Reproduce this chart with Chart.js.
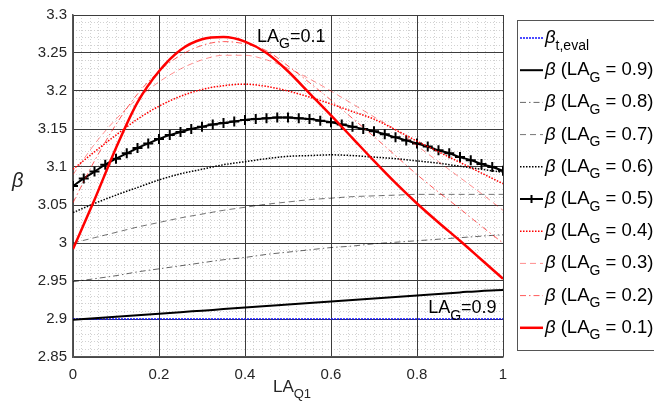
<!DOCTYPE html>
<html>
<head>
  <meta charset="UTF-8" />
  <title>beta vs LA_Q1</title>
  <script src="https://cdn.jsdelivr.net/npm/chart.js"></script>
  <style>
    body { margin: 0; background: #fff; }
  </style>
</head>
<body>

<canvas id="betaChart" width="654" height="414"></canvas>

<script>
  // 1) Values
  const laQ1 = [0, 0.05, 0.1, 0.15, 0.2, 0.25, 0.3, 0.35, 0.4, 0.45, 0.5,
                0.55, 0.6, 0.65, 0.7, 0.75, 0.8, 0.85, 0.9, 0.95, 1];
  // the marked curve (LA_G = 0.5) was read at a finer step
  const laQ1Fine = [0, 0.025, 0.05, 0.075, 0.1, 0.125, 0.15, 0.175, 0.2, 0.225,
                    0.25, 0.275, 0.3, 0.325, 0.35, 0.375, 0.4, 0.425, 0.45, 0.475,
                    0.5, 0.525, 0.55, 0.575, 0.6, 0.625, 0.65, 0.675, 0.7, 0.725,
                    0.75, 0.775, 0.8, 0.825, 0.85, 0.875, 0.9, 0.925, 0.95, 0.975, 1];

  const tEvalX = [0, 1];
  const betaTEval = [2.9, 2.9];

  const beta09 = [2.899, 2.901, 2.903, 2.905, 2.907, 2.909, 2.911, 2.913, 2.915, 2.917, 2.919,
                  2.921, 2.923, 2.925, 2.927, 2.929, 2.931, 2.933, 2.935, 2.937, 2.938];
  const beta08 = [2.949, 2.953, 2.957, 2.962, 2.966, 2.970, 2.974, 2.978, 2.981, 2.985, 2.988,
                  2.991, 2.994, 2.996, 2.999, 3.001, 3.003, 3.005, 3.007, 3.009, 3.011];
  const beta07 = [3.000, 3.007, 3.014, 3.021, 3.027, 3.033, 3.038, 3.043, 3.047, 3.051, 3.054,
                  3.057, 3.059, 3.061, 3.062, 3.063, 3.064, 3.064, 3.064, 3.064, 3.064];
  const beta06 = [3.040, 3.052, 3.063, 3.073, 3.083, 3.091, 3.097, 3.103, 3.107, 3.111, 3.114,
                  3.115, 3.116, 3.115, 3.113, 3.111, 3.108, 3.105, 3.101, 3.097, 3.093];
  const beta05 = [3.075, 3.085, 3.094, 3.103, 3.111, 3.118, 3.125, 3.131, 3.137, 3.142,
                  3.146, 3.150, 3.153, 3.156, 3.158, 3.160, 3.162, 3.163, 3.164, 3.165,
                  3.165, 3.164, 3.163, 3.161, 3.159, 3.156, 3.153, 3.150, 3.147, 3.143,
                  3.139, 3.135, 3.131, 3.127, 3.122, 3.118, 3.113, 3.109, 3.104, 3.100, 3.095];
  const beta04 = [3.097, 3.120, 3.142, 3.163, 3.180, 3.193, 3.202, 3.207, 3.209, 3.206, 3.200,
                  3.192, 3.183, 3.173, 3.163, 3.149, 3.134, 3.120, 3.106, 3.092, 3.078];
  const beta03 = [3.090, 3.130, 3.163, 3.190, 3.212, 3.229, 3.241, 3.247, 3.247, 3.241, 3.230,
                  3.216, 3.200, 3.183, 3.166, 3.149, 3.128, 3.107, 3.086, 3.065, 3.043];
  const beta02 = [3.053, 3.108, 3.156, 3.196, 3.226, 3.247, 3.260, 3.265, 3.262, 3.253, 3.233,
                  3.211, 3.188, 3.164, 3.140, 3.115, 3.090, 3.067, 3.045, 3.022, 3.000];
  const beta01 = [2.992, 3.057, 3.125, 3.185, 3.226, 3.254, 3.268, 3.271, 3.265, 3.250, 3.226,
                  3.197, 3.168, 3.138, 3.108, 3.079, 3.052, 3.027, 3.003, 2.978, 2.953];

  const laGValues = ['0.9', '0.8', '0.7', '0.6', '0.5', '0.4', '0.3', '0.2', '0.1'];

  const xTicks = [0, 0.2, 0.4, 0.6, 0.8, 1];
  const xTickLabels = ['0', '0.2', '0.4', '0.6', '0.8', '1'];
  const yTicks = [2.85, 2.9, 2.95, 3, 3.05, 3.1, 3.15, 3.2, 3.25, 3.3];
  const yTickLabels = ['2.85', '2.9', '2.95', '3', '3.05', '3.1', '3.15', '3.2', '3.25', '3.3'];

  // text labels inside the axes, anchored in data units
  const notes = [
    { x: 0.428, y: 3.265, g: '0.1' },
    { x: 0.826, y: 2.9075, g: '0.9' }
  ];

  const FONT = '"Liberation Sans", Arial, Helvetica, sans-serif';

  // 2) Datasets
  function pts(xs, ys) {
    return xs.map((x, i) => ({ x: x, y: ys[i] }));
  }

  const lineStyles = [
    { color: '#1010ff', width: 1.6, dash: [2, 1] },                 // t,eval
    { color: '#000000', width: 2, dash: [] },                       // 0.9
    { color: 'rgba(0,0,0,0.6)', width: 1, dash: [6, 3, 1.5, 3] },   // 0.8
    { color: 'rgba(0,0,0,0.55)', width: 1, dash: [6, 4] },          // 0.7
    { color: '#000000', width: 1.5, dash: [1.5, 1.5] },             // 0.6
    { color: '#000000', width: 2, dash: [] },                       // 0.5
    { color: '#ff0000', width: 1.5, dash: [1.5, 1.5] },             // 0.4
    { color: 'rgba(255,0,0,0.45)', width: 1, dash: [6, 4] },        // 0.3
    { color: 'rgba(255,0,0,0.65)', width: 1, dash: [6, 3, 1.5, 3] },// 0.2
    { color: '#ff0000', width: 2.5, dash: [] }                      // 0.1
  ];

  const series = [
    pts(tEvalX, betaTEval),
    pts(laQ1, beta09), pts(laQ1, beta08), pts(laQ1, beta07), pts(laQ1, beta06),
    pts(laQ1Fine, beta05),
    pts(laQ1, beta04), pts(laQ1, beta03), pts(laQ1, beta02), pts(laQ1, beta01)
  ];

  const datasets = series.map((data, i) => {
    const st = lineStyles[i];
    const marked = i === 5;
    return {
      label: i === 0 ? 'beta t,eval' : 'beta (LA_G = ' + laGValues[i - 1] + ')',
      data: data,
      borderColor: st.color,
      borderWidth: st.width,
      borderDash: st.dash,
      fill: false,
      cubicInterpolationMode: 'monotone',
      pointRadius: marked ? 5 : 0,
      pointStyle: 'cross',
      pointBorderColor: '#000',
      pointBorderWidth: 2,
      order: series.length - 1 - i
    };
  });

  // 3) Text helpers (subscripts / italic beta)
  function partFont(kind, size) {
    const fs = kind === 'sub' ? Math.round(size * 0.75) : size;
    return (kind === 'i' ? 'italic ' : '') + fs + 'px ' + FONT;
  }
  function partsWidth(ctx, parts, size) {
    let w = 0;
    parts.forEach(([t, kind]) => { ctx.font = partFont(kind, size); w += ctx.measureText(t).width; });
    return w;
  }
  function drawParts(ctx, parts, x, y, size) {
    let cx = x;
    parts.forEach(([t, kind]) => {
      ctx.font = partFont(kind, size);
      ctx.fillText(t, cx, kind === 'sub' ? y + size * 0.36 : y);
      cx += ctx.measureText(t).width;
    });
  }

  const textPlugin = {
    id: 'betaTexts',
    afterDraw(chart) {
      const ctx = chart.ctx;
      const xs = chart.scales.x, ys = chart.scales.y;
      const area = chart.chartArea;
      ctx.save();
      ctx.textAlign = 'left';
      ctx.textBaseline = 'alphabetic';
      ctx.fillStyle = '#000';

      // notes inside the plot
      notes.forEach(n => {
        drawParts(ctx, [['LA', ''], ['G', 'sub'], ['=' + n.g, '']],
          xs.getPixelForValue(n.x), ys.getPixelForValue(n.y), 18);
      });

      // axis titles
      ctx.fillStyle = '#262626';
      const xTitle = [['LA', ''], ['Q1', 'sub']];
      const w = partsWidth(ctx, xTitle, 17);
      drawParts(ctx, xTitle, (area.left + area.right) / 2 - w / 2 + 4, 392, 17);
      drawParts(ctx, [['β', 'i']], 12, 187, 20);

      // legend box
      const lx = 517, ly = 20, lb = 350;
      ctx.fillStyle = '#fff';
      ctx.fillRect(lx, ly, 200, lb - ly);
      ctx.strokeStyle = '#555';
      ctx.lineWidth = 1;
      ctx.setLineDash([]);
      ctx.strokeRect(lx + 0.5, ly + 0.5, 200, lb - ly);

      chart.data.datasets.forEach((ds, i) => {
        const cy = 38 + 32.2 * i;
        ctx.save();
        ctx.strokeStyle = ds.borderColor;
        ctx.lineWidth = ds.borderWidth;
        ctx.setLineDash(ds.borderDash || []);
        ctx.beginPath();
        ctx.moveTo(520, cy);
        ctx.lineTo(543, cy);
        ctx.stroke();
        if (ds.pointRadius > 0) {
          ctx.setLineDash([]);
          ctx.lineWidth = ds.pointBorderWidth;
          ctx.beginPath();
          ctx.moveTo(531.5 - 4, cy); ctx.lineTo(531.5 + 4, cy);
          ctx.moveTo(531.5, cy - 4); ctx.lineTo(531.5, cy + 4);
          ctx.stroke();
        }
        ctx.restore();
        ctx.fillStyle = '#000';
        const parts = i === 0
          ? [['β', 'i'], ['t,eval', 'sub']]
          : [['β', 'i'], [' (LA', ''], ['G', 'sub'], [' = ' + laGValues[i - 1] + ')', '']];
        drawParts(ctx, parts, 545, cy + 5, 18.5);
      });
      ctx.restore();
    }
  };

  function pickLabel(ticks, labels) {
    return v => {
      const k = ticks.findIndex(t => Math.abs(t - v) < 1e-6);
      return k < 0 ? '' : labels[k];
    };
  }

  // 4) Chart
  const ctx = document.getElementById('betaChart').getContext('2d');
  const betaChart = new Chart(ctx, {
    type: 'line',
    data: { datasets: datasets },
    options: {
      responsive: false,
      animation: false,
      devicePixelRatio: 1,
      layout: { autoPadding: false, padding: { top: 13, right: 151, left: 0, bottom: 0 } },
      scales: {
        x: {
          type: 'linear', min: 0, max: 1,
          ticks: { stepSize: 0.2, padding: 9, color: '#262626',
                   font: { family: FONT, size: 15 }, callback: pickLabel(xTicks, xTickLabels) },
          grid: { color: '#3c3c3c', lineWidth: 1, drawTicks: false, z: -1 },
          border: { color: '#555', width: 1.5 },
          afterFit: s => { s.height = 57; }
        },
        y: {
          type: 'linear', min: 2.85, max: 3.3,
          ticks: { stepSize: 0.05, padding: 6, color: '#262626',
                   font: { family: FONT, size: 15 }, callback: pickLabel(yTicks, yTickLabels) },
          grid: { color: '#3c3c3c', lineWidth: 1, drawTicks: false, z: -1 },
          border: { color: '#555', width: 1.5 },
          afterFit: s => { s.width = 73; }
        },
        xMinor: {
          type: 'linear', position: 'bottom', min: 0, max: 1,
          ticks: { display: false, stepSize: 0.02 },
          grid: { color: '#d2d2d2', lineWidth: 1, drawTicks: false, z: -2 },
          border: { display: false, dash: [1, 2] },
          afterFit: s => { s.height = 0; }
        },
        yMinor: {
          type: 'linear', position: 'left', min: 2.85, max: 3.3,
          ticks: { display: false, stepSize: 0.01 },
          grid: { color: '#d2d2d2', lineWidth: 1, drawTicks: false, z: -2 },
          border: { display: false, dash: [1, 2] },
          afterFit: s => { s.width = 0; }
        }
      },
      plugins: {
        legend: { display: false },
        tooltip: { enabled: false }
      }
    },
    plugins: [textPlugin]
  });
</script>

</body>
</html>
